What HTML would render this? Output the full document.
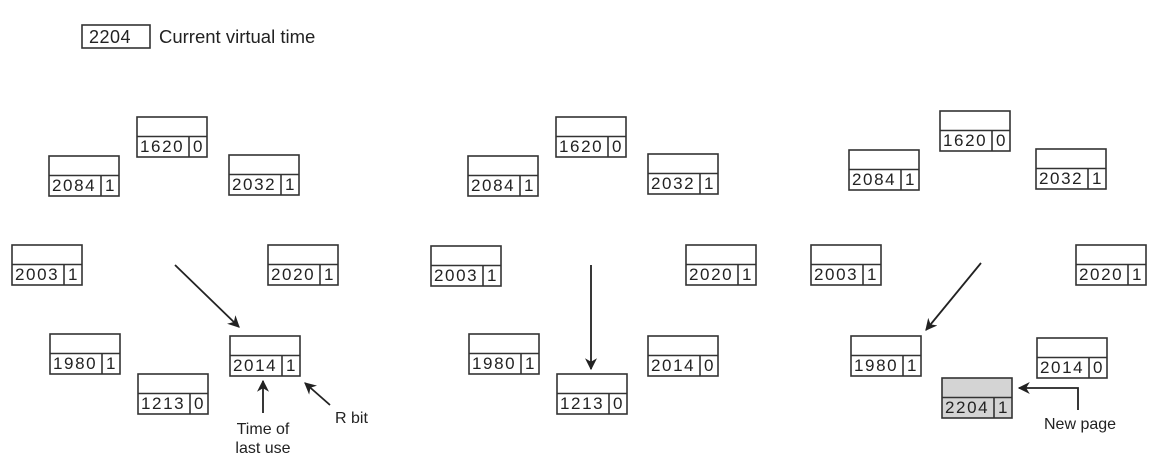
<!DOCTYPE html>
<html><head><meta charset="utf-8"><style>
html,body{margin:0;padding:0;background:#fff;width:1157px;height:469px;overflow:hidden}
svg{display:block}
text{font-family:"Liberation Sans",sans-serif;fill:#222}
.n{font-size:17px;letter-spacing:1.6px}
.b{fill:none;stroke:#333;stroke-width:1.6}
</style></head><body>
<svg width="1157" height="469" viewBox="0 0 1157 469">
<defs>
<marker id="ah" viewBox="0 0 10 10" refX="9" refY="5" markerWidth="12" markerHeight="12" markerUnits="userSpaceOnUse" orient="auto">
<path d="M0,0 L10,5 L0,10 L3,5 z" fill="#222"/></marker>
<g id="bx"><rect x="0" y="0" width="70" height="40" class="b"/><line x1="0" y1="19.5" x2="70" y2="19.5" class="b"/><line x1="52" y1="19.5" x2="52" y2="40" class="b"/></g>
</defs>
<rect x="82" y="25" width="68" height="23" class="b"/>
<text x="89" y="43" style="font-size:18px;letter-spacing:0.5px">2204</text>
<text x="159" y="43" style="font-size:18.5px">Current virtual time</text>

<!-- Panel 1 -->
<g transform="translate(137,117)"><use href="#bx"/><text class="n" x="3" y="35">1620</text><text class="n" x="56" y="35">0</text></g>
<g transform="translate(49,156)"><use href="#bx"/><text class="n" x="3" y="35">2084</text><text class="n" x="56" y="35">1</text></g>
<g transform="translate(229,155)"><use href="#bx"/><text class="n" x="3" y="35">2032</text><text class="n" x="56" y="35">1</text></g>
<g transform="translate(12,245)"><use href="#bx"/><text class="n" x="3" y="35">2003</text><text class="n" x="56" y="35">1</text></g>
<g transform="translate(268,245)"><use href="#bx"/><text class="n" x="3" y="35">2020</text><text class="n" x="56" y="35">1</text></g>
<g transform="translate(50,334)"><use href="#bx"/><text class="n" x="3" y="35">1980</text><text class="n" x="56" y="35">1</text></g>
<g transform="translate(138,374)"><use href="#bx"/><text class="n" x="3" y="35">1213</text><text class="n" x="56" y="35">0</text></g>
<g transform="translate(230,336)"><use href="#bx"/><text class="n" x="3" y="35">2014</text><text class="n" x="56" y="35">1</text></g>
<line x1="175" y1="265" x2="239" y2="327" stroke="#222" stroke-width="1.8" marker-end="url(#ah)"/>
<line x1="263" y1="413" x2="263" y2="381" stroke="#222" stroke-width="1.8" marker-end="url(#ah)"/>
<line x1="330" y1="405" x2="305" y2="383" stroke="#222" stroke-width="1.8" marker-end="url(#ah)"/>
<text x="263" y="434" text-anchor="middle" style="font-size:16px">Time of</text>
<text x="263" y="453" text-anchor="middle" style="font-size:16px">last use</text>
<text x="335" y="423" style="font-size:16px">R bit</text>

<!-- Panel 2 -->
<g transform="translate(556,117)"><use href="#bx"/><text class="n" x="3" y="35">1620</text><text class="n" x="56" y="35">0</text></g>
<g transform="translate(468,156)"><use href="#bx"/><text class="n" x="3" y="35">2084</text><text class="n" x="56" y="35">1</text></g>
<g transform="translate(648,154)"><use href="#bx"/><text class="n" x="3" y="35">2032</text><text class="n" x="56" y="35">1</text></g>
<g transform="translate(431,246)"><use href="#bx"/><text class="n" x="3" y="35">2003</text><text class="n" x="56" y="35">1</text></g>
<g transform="translate(686,245)"><use href="#bx"/><text class="n" x="3" y="35">2020</text><text class="n" x="56" y="35">1</text></g>
<g transform="translate(469,334)"><use href="#bx"/><text class="n" x="3" y="35">1980</text><text class="n" x="56" y="35">1</text></g>
<g transform="translate(557,374)"><use href="#bx"/><text class="n" x="3" y="35">1213</text><text class="n" x="56" y="35">0</text></g>
<g transform="translate(648,336)"><use href="#bx"/><text class="n" x="3" y="35">2014</text><text class="n" x="56" y="35">0</text></g>
<line x1="591" y1="265" x2="591" y2="369" stroke="#222" stroke-width="1.8" marker-end="url(#ah)"/>

<!-- Panel 3 -->
<g transform="translate(940,111)"><use href="#bx"/><text class="n" x="3" y="35">1620</text><text class="n" x="56" y="35">0</text></g>
<g transform="translate(849,150)"><use href="#bx"/><text class="n" x="3" y="35">2084</text><text class="n" x="56" y="35">1</text></g>
<g transform="translate(1036,149)"><use href="#bx"/><text class="n" x="3" y="35">2032</text><text class="n" x="56" y="35">1</text></g>
<g transform="translate(811,245)"><use href="#bx"/><text class="n" x="3" y="35">2003</text><text class="n" x="56" y="35">1</text></g>
<g transform="translate(1076,245)"><use href="#bx"/><text class="n" x="3" y="35">2020</text><text class="n" x="56" y="35">1</text></g>
<g transform="translate(851,336)"><use href="#bx"/><text class="n" x="3" y="35">1980</text><text class="n" x="56" y="35">1</text></g>
<g transform="translate(1037,338)"><use href="#bx"/><text class="n" x="3" y="35">2014</text><text class="n" x="56" y="35">0</text></g>
<g transform="translate(942,378)"><rect x="0" y="0" width="70" height="40" fill="#d4d4d4"/><use href="#bx"/><text class="n" x="3" y="35">2204</text><text class="n" x="56" y="35">1</text></g>
<line x1="981" y1="263" x2="926" y2="330" stroke="#222" stroke-width="1.8" marker-end="url(#ah)"/>
<polyline points="1078,410 1078,388 1019,388" fill="none" stroke="#222" stroke-width="1.8" marker-end="url(#ah)"/>
<text x="1044" y="429" style="font-size:16px">New page</text>
</svg>
</body></html>
